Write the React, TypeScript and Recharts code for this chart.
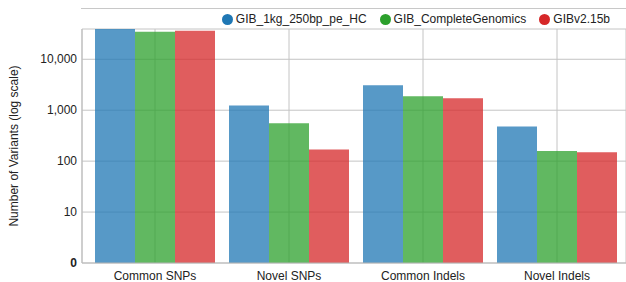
import React from 'react';
import { BarChart, Bar, XAxis, YAxis, CartesianGrid } from 'recharts';

const categories = ['Common SNPs', 'Novel SNPs', 'Common Indels', 'Novel Indels'];
const gib1kg = [39300, 1234, 3094, 479];
const completeGenomics = [34800, 552, 1883, 159];
const gibV215b = [36400, 169, 1718, 150];
const yTicks = [1, 10, 100, 1000, 10000];

const series = [
  { key: 'gib1kg', name: 'GIB_1kg_250bp_pe_HC', color: '#1f77b4' },
  { key: 'cg', name: 'GIB_CompleteGenomics', color: '#2ca02c' },
  { key: 'v215b', name: 'GIBv2.15b', color: '#d62728' },
];

const data = categories.map((c, i) => ({
  category: c,
  gib1kg: gib1kg[i],
  cg: completeGenomics[i],
  v215b: gibV215b[i],
}));

const font = '"Liberation Sans", Arial, Helvetica, sans-serif';

// legend sits in the strip between the top rule and the plot
const LegendStrip = () => (
  <div
    style={{
      position: 'absolute', top: 8, left: 81, width: 545, height: 21,
      borderTop: '1px solid #c8c8c8', boxSizing: 'border-box',
      display: 'flex', justifyContent: 'flex-end', alignItems: 'center', paddingRight: 16,
    }}
  >
    {series.map((s) => (
      <div key={s.key} style={{ display: 'flex', alignItems: 'center', marginLeft: 13 }}>
        <span style={{ width: 11, height: 11, borderRadius: '50%', background: s.color, display: 'inline-block', marginRight: 3 }} />
        <span style={{ fontSize: 12, color: '#222' }}>{s.name}</span>
      </div>
    ))}
  </div>
);

const YTick = (props: any) => {
  const { x, y, payload } = props;
  const v = payload.value;
  const txt = v === 1 ? '0' : v.toLocaleString('en-US');
  return (
    <text x={x} y={y} dy={4} textAnchor="end" fontSize={12} fill="#222" fontWeight={v === 1 ? 'bold' : 'normal'}>
      {txt}
    </text>
  );
};

const YLabel = () => (
  <text x={15} y={146} transform="rotate(-90 15 146)" textAnchor="middle" dominantBaseline="middle" fontSize={12} fill="#222">
    Number of Variants (log scale)
  </text>
);

export default function App() {
  return (
    <div style={{ position: 'absolute', left: 0, top: 0, width: 626, height: 282, fontFamily: font, background: '#fff' }}>
      <BarChart
        width={626}
        height={282}
        data={data}
        margin={{ top: 29, right: 0, bottom: 0, left: 0 }}
        barCategoryGap={7}
        barGap={0}
        style={{ fontFamily: font }}
      >
        <CartesianGrid stroke="#c4c4c4" strokeWidth={1} />
        <XAxis
          dataKey="category"
          height={19}
          padding={{ left: 6, right: 2 }}
          tickLine={false}
          tickSize={0}
          tickMargin={8}
          stroke="#bbb"
          tick={{ fill: '#222', fontSize: 12 }}
        />
        <YAxis
          scale="log"
          domain={[1, 'dataMax']}
          ticks={yTicks}
          width={82}
          tickLine={false}
          tickSize={0}
          tickMargin={5}
          stroke="#bbb"
          tick={<YTick />}
          label={<YLabel />}
        />
        {series.map((s) => (
          <Bar
            key={s.key}
            dataKey={s.key}
            name={s.name}
            fill={s.color}
            fillOpacity={0.75}
            isAnimationActive={false}
          />
        ))}
      </BarChart>
      <LegendStrip />
    </div>
  );
}
